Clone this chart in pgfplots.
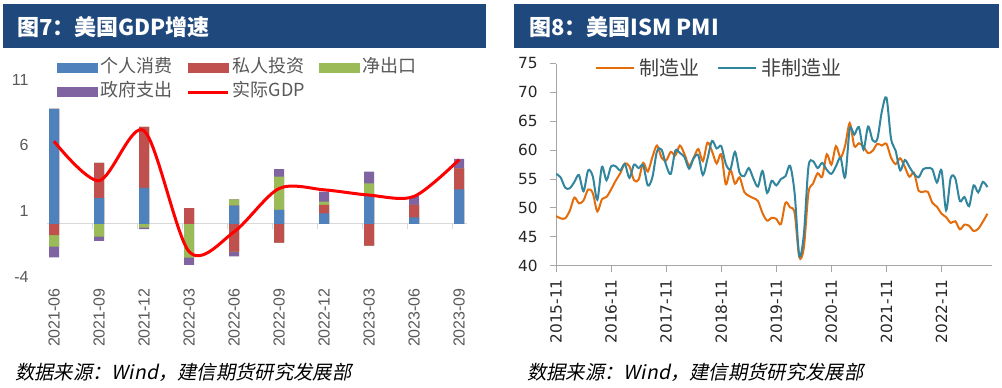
\documentclass[border=0pt]{standalone}
\usepackage{pgfplots}
\pgfplotsset{compat=1.18}
\usepackage{fontspec}
\setmainfont{Liberation Sans}
\newfontfamily\cjk{Noto Sans CJK SC}
\newfontfamily\cjkit{Noto Sans CJK SC}[FakeSlant=0.2]
\newfontfamily\dejavu{DejaVu Sans}
\definecolor{tbar}{RGB}{31,73,125}
\definecolor{cblue}{RGB}{79,129,189}
\definecolor{cred}{RGB}{192,80,77}
\definecolor{cgreen}{RGB}{155,187,89}
\definecolor{cpurple}{RGB}{128,100,162}
\definecolor{corange}{RGB}{228,108,10}
\definecolor{cteal}{RGB}{49,133,156}
\definecolor{lgray}{RGB}{89,89,89}
\definecolor{zgray}{RGB}{217,217,217}
\definecolor{agray}{RGB}{166,166,166}
\begin{document}
\begin{tikzpicture}[x=0.75pt,y=-0.75pt]
\fill[white,use as bounding box] (0,0) rectangle (1002,387);
\coordinate (LA) at (46.8,276.5);
\coordinate (RA) at (556,265.7);
% ---------------- left chart ----------------
\begin{axis}[
  at={(LA)}, anchor=south west,
  scale only axis, width=315pt, height=147.75pt,
  xmin=-0.16, xmax=9.17, ymin=-4, ymax=11,
  axis line style={draw=none},
  xtick={0,...,9},
  xticklabels={2021-06,2021-09,2021-12,2022-03,2022-06,2022-09,2022-12,2023-03,2023-06,2023-09},
  ytick={-4,1,6,11}, yticklabels={-4,1,6,11},
  major tick length=0pt,
  tick label style={font=\fontsize{12}{14}\selectfont, text=lgray},
  xticklabel style={rotate=90, anchor=east, inner sep=0pt},
  yticklabel style={anchor=east, inner sep=0pt},
  xticklabel shift=8.6pt, yticklabel shift=13.5pt,
  clip=false,
  legend columns=3, legend cell align=left,
  legend style={at={(0.0243,0.9975)}, anchor=west, draw=none, fill=none, inner sep=0pt,
    font=\cjk\fontsize{13.5}{16}\selectfont, text=lgray,
    nodes={inner sep=0pt, text height=10pt, text depth=3pt},
    row sep=5pt, column sep=2.25pt,
    /tikz/every even column/.append style={column sep=10.5pt}},
]
\draw[zgray, line width=0.75pt] (axis cs:-0.16,0) -- (axis cs:9.17,0);
\draw[zgray, line width=0.75pt]
  (axis cs:0.845,0) -- ++(0pt,-4pt) (axis cs:1.845,0) -- ++(0pt,-4pt)
  (axis cs:2.845,0) -- ++(0pt,-4pt) (axis cs:3.845,0) -- ++(0pt,-4pt)
  (axis cs:4.845,0) -- ++(0pt,-4pt) (axis cs:5.845,0) -- ++(0pt,-4pt)
  (axis cs:6.845,0) -- ++(0pt,-4pt) (axis cs:7.845,0) -- ++(0pt,-4pt)
  (axis cs:8.845,0) -- ++(0pt,-4pt);
% cumulative stacks (drawn back to front): purple = all four, green = first three, red = first two, blue = first
\addplot[ybar, bar width=7.5pt, bar shift=0pt, fill=cpurple, draw=none, forget plot] coordinates {
 (0,8.76)(0,-2.54)(1,4.65)(1,-1.29)(2,7.39)(2,-0.40)(3,1.20)(3,-3.12)(4,1.88)(4,-2.46)
 (5,4.17)(5,-1.42)(6,2.46)(7,3.98)(7,-1.65)(8,2.13)(9,4.95)};
\addplot[ybar, bar width=7.5pt, bar shift=0pt, fill=cgreen, draw=none, forget plot] coordinates {
 (0,8.76)(0,-1.73)(1,4.65)(1,-0.97)(2,7.39)(2,-0.28)(3,1.20)(3,-2.56)(4,1.88)(4,-2.11)
 (5,3.60)(5,-1.42)(6,1.70)(7,3.10)(7,-1.65)(8,1.45)(9,4.24)};
\addplot[ybar, bar width=7.5pt, bar shift=0pt, fill=cred, draw=none, forget plot] coordinates {
 (0,8.76)(0,-0.84)(1,4.65)(2,7.39)(3,1.20)(4,1.39)(4,-2.11)
 (5,1.07)(5,-1.42)(6,1.45)(7,2.16)(7,-1.65)(8,1.45)(9,4.24)};
\addplot[ybar, bar width=7.5pt, bar shift=0pt, fill=cblue, draw=none, forget plot] coordinates {
 (0,8.76)(1,1.96)(2,2.74)(4,1.39)(5,1.07)(6,0.81)(7,2.16)(8,0.51)(9,2.64)};
\addlegendimage{legend image code/.code={\fill[cblue] (0pt,-3.4pt) rectangle (30pt,3.4pt);}}
\addlegendentry{个人消费}
\addlegendimage{legend image code/.code={\fill[cred] (0pt,-3.4pt) rectangle (30pt,3.4pt);}}
\addlegendentry{私人投资}
\addlegendimage{legend image code/.code={\fill[cgreen] (0pt,-3.4pt) rectangle (30pt,3.4pt);}}
\addlegendentry{净出口}
\addlegendimage{legend image code/.code={\fill[cpurple] (0pt,-3.4pt) rectangle (30pt,3.4pt);}}
\addlegendentry{政府支出}
\addplot[red, line width=2.25pt, smooth,
  legend image code/.code={\draw[red, line width=2.25pt] (0pt,0pt) -- (30pt,0pt);}]
  coordinates {(0,6.3)(1,3.3)(2,7.1)(3,-2.1)(4,-0.6)(5,2.7)(6,2.6)(7,2.2)(8,2.1)(9,4.9)};
\addlegendentry{实际GDP}
\end{axis}
% ---------------- right chart ----------------
\begin{axis}[
  at={(RA)}, anchor=south west,
  scale only axis, width=327pt, height=151.65pt,
  xmin=0, xmax=95, ymin=40, ymax=75,
  axis x line*=bottom, axis y line*=left,
  axis line style={agray, line width=0.75pt, -},
  every outer x axis line/.append style={-},
  every outer y axis line/.append style={-},
  xtick={0,12,24,36,48,60,72,84},
  xticklabels={2015-11,2016-11,2017-11,2018-11,2019-11,2020-11,2021-11,2022-11},
  ytick={40,45,50,55,60,65,70,75},
  tick align=outside, major tick length=4.5pt,
  tick style={agray, line width=0.75pt},
  /pgf/number format/assume math mode=true,
  tick label style={font=\dejavu\fontsize{11.5}{13}\selectfont, text=black!85},
  xticklabel style={rotate=90, anchor=east, inner sep=0pt},
  yticklabel style={anchor=east, inner sep=0pt},
  xticklabel shift=5.5pt, yticklabel shift=9pt,
  legend columns=2, legend cell align=left,
  legend style={at={(0.0894,0.978)}, anchor=west, draw=none, fill=none, inner sep=0pt,
    font=\cjk\fontsize{15}{18}\selectfont, text=black!75,
    nodes={inner sep=0pt}, column sep=3pt,
    /tikz/every even column/.append style={column sep=13.5pt}},
]
\addplot[corange, line width=1.5pt, smooth,
  legend image code/.code={\draw[corange, line width=1.5pt] (0pt,0pt) -- (28.5pt,0pt);}]
  coordinates {
 (0,48.6)(1,48.2)(2,48.2)(3,49.5)(4,51.8)(5,50.8)(6,51.3)(7,53.2)(8,52.6)(9,49.4)
 (10,51.5)(11,51.9)(12,53.2)(13,54.7)(14,56.0)(15,57.7)(16,57.2)(17,54.8)(18,54.9)(19,57.8)
 (20,56.3)(21,58.8)(22,60.8)(23,58.7)(24,58.2)(25,59.7)(26,59.1)(27,60.8)(28,59.3)(29,57.3)
 (30,58.7)(31,60.2)(32,58.1)(33,61.3)(34,59.8)(35,57.7)(36,59.3)(37,54.1)(38,56.6)(39,54.2)
 (40,55.3)(41,52.8)(42,52.1)(43,51.7)(44,51.2)(45,49.1)(46,47.8)(47,48.3)(48,48.1)(49,47.2)
 (50,50.9)(51,50.1)(52,49.1)(53,41.5)(54,43.1)(55,52.6)(56,54.2)(57,56.0)(58,55.4)(59,59.3)
 (60,57.5)(61,60.7)(62,58.7)(63,60.8)(64,64.7)(65,60.7)(66,61.2)(67,60.6)(68,59.5)(69,59.9)
 (70,61.1)(71,60.8)(72,61.1)(73,58.7)(74,57.6)(75,58.6)(76,57.1)(77,55.4)(78,56.1)(79,53.0)
 (80,52.8)(81,52.8)(82,50.9)(83,50.2)(84,49.0)(85,48.4)(86,47.4)(87,47.7)(88,46.3)(89,47.1)
 (90,46.9)(91,46.0)(92,46.4)(93,47.6)(94,49.0)};
\addlegendentry{制造业}
\addplot[cteal, line width=1.5pt, smooth,
  legend image code/.code={\draw[cteal, line width=1.5pt] (0pt,0pt) -- (28.5pt,0pt);}]
  coordinates {
 (0,55.9)(1,55.3)(2,53.5)(3,53.4)(4,54.5)(5,55.7)(6,52.9)(7,56.5)(8,55.5)(9,51.4)
 (10,57.1)(11,54.8)(12,57.2)(13,57.2)(14,56.5)(15,57.6)(16,55.2)(17,57.5)(18,56.9)(19,57.4)
 (20,53.9)(21,55.3)(22,59.8)(23,60.1)(24,57.4)(25,55.9)(26,59.9)(27,59.5)(28,58.8)(29,56.8)
 (30,58.6)(31,59.1)(32,55.7)(33,58.5)(34,61.6)(35,60.3)(36,60.7)(37,57.6)(38,56.7)(39,59.7)
 (40,56.1)(41,55.5)(42,56.9)(43,55.1)(44,53.7)(45,56.4)(46,52.6)(47,54.7)(48,53.9)(49,55.0)
 (50,55.5)(51,57.3)(52,52.5)(53,41.8)(54,45.4)(55,57.1)(56,58.1)(57,56.9)(58,57.8)(59,56.6)
 (60,55.9)(61,57.2)(62,58.7)(63,55.3)(64,63.7)(65,62.7)(66,64.0)(67,60.1)(68,64.1)(69,61.7)
 (70,61.9)(71,66.7)(72,69.1)(73,62.0)(74,59.9)(75,56.5)(76,58.3)(77,57.1)(78,55.9)(79,55.3)
 (80,56.7)(81,56.9)(82,56.7)(83,54.4)(84,56.5)(85,49.6)(86,55.2)(87,55.1)(88,51.2)(89,51.9)
 (90,50.3)(91,53.9)(92,52.7)(93,54.5)(94,53.6)};
\addlegendentry{非制造业}
\end{axis}
% ---------------- titles and sources ----------------
\fill[tbar] (3,4) rectangle (486,48);
\node[anchor=west, text=white, inner sep=0pt, font=\cjk\bfseries\fontsize{16.5}{18}\selectfont] at (17,27) {图7：美国GDP增速};
\fill[tbar] (514,4) rectangle (999,48);
\node[anchor=west, text=white, inner sep=0pt, font=\cjk\bfseries\fontsize{16.5}{18}\selectfont] at (529,27) {图8：美国ISM PMI};
\node[anchor=west, inner sep=0pt, font=\cjkit\fontsize{14.5}{16}\selectfont] at (15,372) {数据来源：Wind，建信期货研究发展部};
\node[anchor=west, inner sep=0pt, font=\cjkit\fontsize{14.5}{16}\selectfont] at (527,372) {数据来源：Wind，建信期货研究发展部};
\end{tikzpicture}
\end{document}
